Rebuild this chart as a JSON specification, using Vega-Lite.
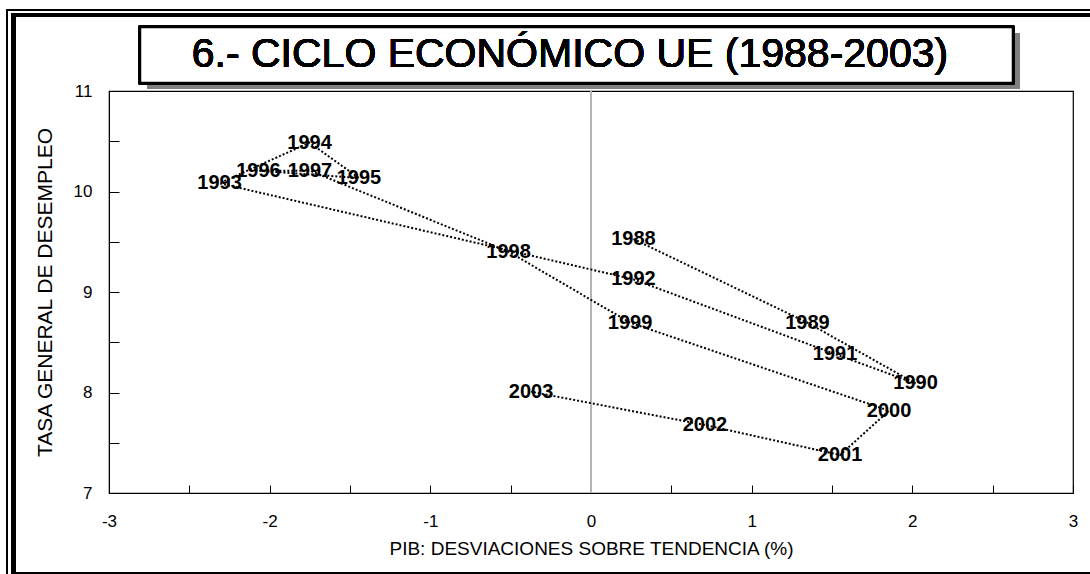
{
  "$schema": "https://vega.github.io/schema/vega-lite/v6.json",
  "width": 964,
  "height": 402,
  "autosize": {"type": "none"},
  "padding": {"left": 109, "top": 91, "right": 17, "bottom": 81},
  "background": "white",
  "config": {
    "view": {"stroke": "black", "strokeWidth": 1.2},
    "axis": {
      "grid": false,
      "domainColor": "black",
      "tickColor": "black",
      "labelColor": "black",
      "titleColor": "black",
      "labelFont": "Liberation Sans",
      "titleFont": "Liberation Sans",
      "labelFontSize": 17,
      "titleFontSize": 19,
      "titleFontWeight": "normal",
      "labelOverlap": false,
      "labelFlush": false
    }
  },
  "data": {
    "values": [
      {"year": 1988, "pib": 0.264, "paro": 9.527},
      {"year": 1989, "pib": 1.347, "paro": 8.695},
      {"year": 1990, "pib": 2.02, "paro": 8.09},
      {"year": 1991, "pib": 1.519, "paro": 8.383},
      {"year": 1992, "pib": 0.264, "paro": 9.126},
      {"year": 1993, "pib": -2.312, "paro": 10.082},
      {"year": 1994, "pib": -1.752, "paro": 10.486},
      {"year": 1995, "pib": -1.444, "paro": 10.134},
      {"year": 1996, "pib": -2.07, "paro": 10.207},
      {"year": 1997, "pib": -1.749, "paro": 10.207},
      {"year": 1998, "pib": -0.513, "paro": 9.401},
      {"year": 1999, "pib": 0.243, "paro": 8.695},
      {"year": 2000, "pib": 1.855, "paro": 7.819},
      {"year": 2001, "pib": 1.55, "paro": 7.378},
      {"year": 2002, "pib": 0.709, "paro": 7.677},
      {"year": 2003, "pib": -0.373, "paro": 8.008}
    ]
  },
  "layer": [
    {
      "mark": {"type": "rect", "fill": null, "stroke": "black", "strokeWidth": 1.5, "clip": false},
      "encoding": {
        "x": {
          "datum": -3.635,
          "type": "quantitative",
          "scale": {"domain": [-3, 3], "nice": false, "zero": false},
          "axis": {
            "title": "PIB: DESVIACIONES SOBRE TENDENCIA (%)",
            "values": [-3, -2.5, -2, -1.5, -1, -0.5, 0, 0.5, 1, 1.5, 2, 2.5, 3],
            "labelExpr": "datum.value % 1 === 0 ? '' + datum.value : ''",
            "tickSize": -8,
            "labelPadding": 28,
            "titlePadding": 10
          }
        },
        "x2": {"datum": 3.3},
        "y": {
          "datum": 11.806,
          "type": "quantitative",
          "scale": {"domain": [7, 11], "nice": false, "zero": false},
          "axis": {
            "title": "TASA GENERAL DE DESEMPLEO",
            "titleFontSize": 21,
            "values": [7, 7.5, 8, 8.5, 9, 9.5, 10, 10.5, 11],
            "labelExpr": "datum.value % 1 === 0 ? '' + datum.value : ''",
            "tickSize": -10,
            "labelPadding": 27,
            "titlePadding": 18
          }
        },
        "y2": {"datum": 5.8}
      }
    },
    {
      "mark": {"type": "rect", "fill": null, "stroke": "black", "strokeWidth": 4, "clip": false},
      "encoding": {
        "x": {"datum": -3.594},
        "x2": {"datum": 3.3},
        "y": {"datum": 11.756},
        "y2": {"datum": 6.194}
      }
    },
    {
      "mark": {"type": "rect", "fill": "#808080", "clip": false},
      "encoding": {
        "x": {"datum": -2.763},
        "x2": {"datum": 2.67},
        "y": {"datum": 11.577},
        "y2": {"datum": 11.02}
      }
    },
    {
      "mark": {"type": "rect", "fill": "white", "stroke": "black", "strokeWidth": 2.5, "clip": false},
      "encoding": {
        "x": {"datum": -2.807},
        "x2": {"datum": 2.6265},
        "y": {"datum": 11.637},
        "y2": {"datum": 11.08}
      }
    },
    {
      "mark": {"type": "text", "font": "Liberation Sans", "fontSize": 41, "fontWeight": "normal", "color": "black", "align": "center", "baseline": "alphabetic", "clip": false},
      "encoding": {
        "x": {"datum": -0.131},
        "y": {"datum": 11.239},
        "text": {"value": "6.- CICLO ECONÓMICO UE (1988-2003)"}
      }
    },
    {
      "mark": {"type": "rule", "color": "#b4b4b4", "strokeWidth": 2},
      "encoding": {"x": {"datum": 0}}
    },
    {
      "mark": {"type": "line", "color": "black", "strokeWidth": 2, "strokeDash": [2, 2], "strokeCap": "butt"},
      "encoding": {
        "x": {"field": "pib", "type": "quantitative"},
        "y": {"field": "paro", "type": "quantitative"},
        "order": {"field": "year"}
      }
    },
    {
      "mark": {"type": "text", "font": "Liberation Sans", "fontSize": 20, "fontWeight": "bold", "color": "black", "align": "center", "baseline": "middle"},
      "encoding": {
        "x": {"field": "pib", "type": "quantitative"},
        "y": {"field": "paro", "type": "quantitative"},
        "text": {"field": "year", "type": "nominal"}
      }
    }
  ]
}
